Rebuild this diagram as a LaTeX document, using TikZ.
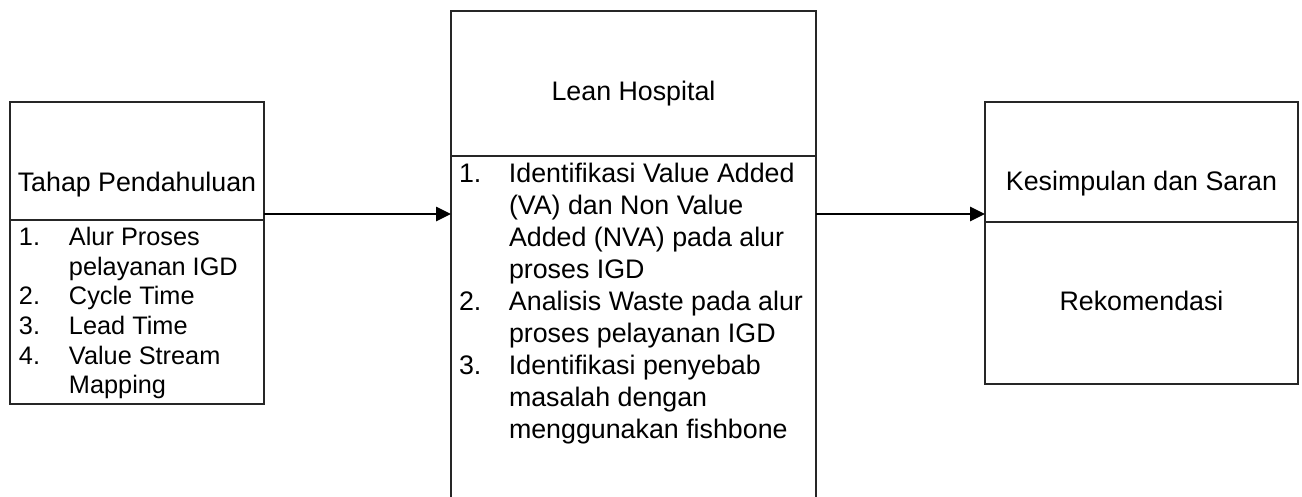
\documentclass[tikz,border=0pt]{standalone}
\usepackage{fontspec}
\setmainfont{Liberation Sans}
\usetikzlibrary{positioning,arrows.meta}

\begin{document}
\begin{tikzpicture}[x=1pt,y=-1pt,
  box/.style={draw=black!85,line width=1.1pt,inner sep=0pt,outer sep=0pt,
    font=\fontsize{26.8}{32}\selectfont},
  listtext/.style={inner sep=0pt,outer sep=0pt,anchor=north west,align=left},
  flow/.style={-{Triangle[length=15pt,width=14pt]},line width=2.6pt}]
  \path[use as bounding box,clip] (0,0) rectangle (1302,496);
  % stage 1: preliminary
  \node[box,minimum width=254pt,minimum height=118pt,text height=60pt,text depth=0pt] (lefthead) at (137,161) {Tahap Pendahuluan};
  \node[box,minimum width=254pt,minimum height=184pt,below=0pt of lefthead] (leftbody) {};
  \node[listtext,font=\fontsize{25.3}{29.6}\selectfont] (leftlist) at (19,225) {%
    \begin{tabular}{@{}p{50pt}@{}l@{}}
    1. & Alur Proses\\
       & pelayanan IGD\\
    2. & Cycle Time\\
    3. & Lead Time\\
    4. & Value Stream\\
       & Mapping
    \end{tabular}};
  % stage 2: lean hospital (runs off the bottom)
  \node[box,minimum width=365pt,minimum height=145pt,text height=34pt,text depth=0pt] (midhead) at (633.5,83.5) {Lean Hospital};
  \node[box,minimum width=365pt,minimum height=364pt,below=0pt of midhead] (midbody) {};
  \node[listtext,font=\fontsize{26.8}{32}\selectfont] (midlist) at (459,159.6) {%
    \begin{tabular}{@{}p{50pt}@{}l@{}}
    1. & Identifikasi Value Added\\
       & (VA) dan Non Value\\
       & Added (NVA) pada alur\\
       & proses IGD\\
    2. & Analisis Waste pada alur\\
       & proses pelayanan IGD\\
    3. & Identifikasi penyebab\\
       & masalah dengan\\
       & menggunakan fishbone
    \end{tabular}};
  % stage 3: conclusions
  \node[box,minimum width=313pt,minimum height=120pt,text height=56pt,text depth=0pt] (righthead) at (1141.5,162) {Kesimpulan dan Saran};
  \node[box,minimum width=313pt,minimum height=162pt,text height=14pt,text depth=0pt,below=0pt of righthead] (rightbody) {Rekomendasi};
  % connectors
  \coordinate (a1) at ([yshift=6pt]lefthead.south east);
  \draw[flow] (a1) -- (a1 -| midbody.west);
  \coordinate (a2) at ([yshift=8pt]righthead.south west);
  \draw[flow] (a2 -| midbody.east) -- (a2);
\end{tikzpicture}
\end{document}
